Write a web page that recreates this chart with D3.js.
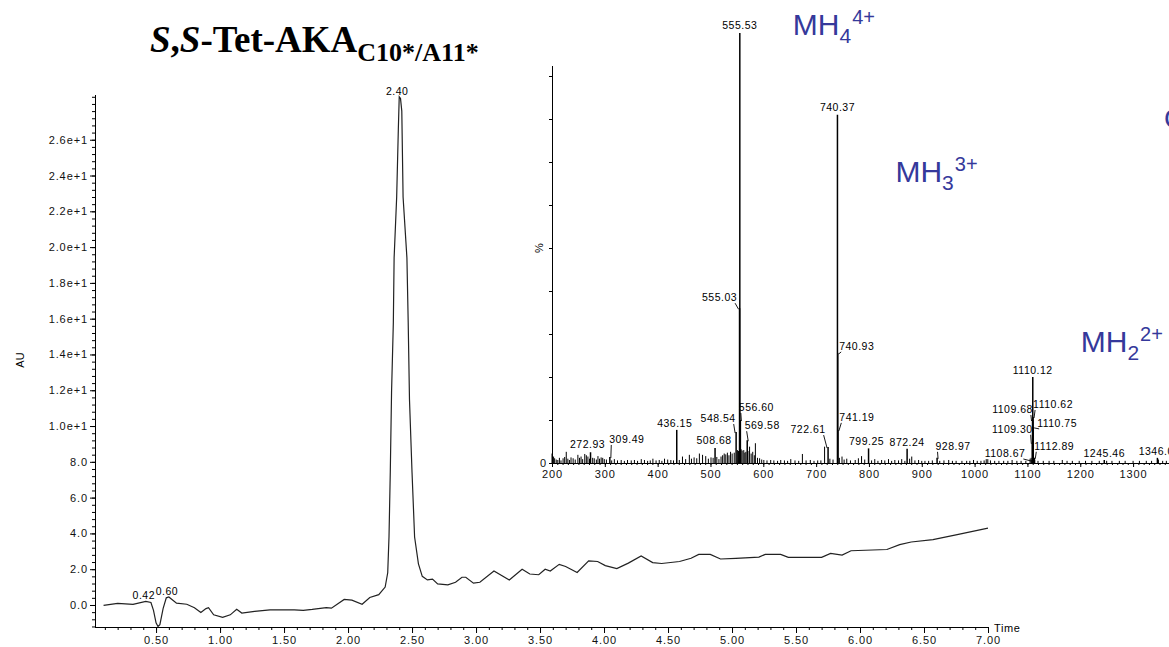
<!DOCTYPE html>
<html>
<head>
<meta charset="utf-8">
<script src="https://cdn.jsdelivr.net/npm/d3@7"></script>
<style>
body{margin:0;background:#fff;}
svg{display:block;font-family:"Liberation Sans",Arial,sans-serif;}
.tick text{font-size:11px;fill:#111;letter-spacing:0.9px;}
</style>
</head>
<body>
<div id="page"></div>
<script>
// configure page
const width = 1169
const height = 647

// uv chromatogram, retention time (min) and absorbance (AU)
var rtTime = [0.09,0.20,0.32,0.42,0.46,0.48,0.50,0.515,0.53,0.555,0.58,0.60,0.66,0.74,0.80,0.85,0.89,0.91,0.95,1.02,
	1.08,1.13,1.17,1.27,1.39,1.58,1.65,1.72,1.83,1.87,1.97,2.03,2.11,2.17,2.24,2.29,2.31,2.32,2.33,2.34,
	2.354,2.36,2.38,2.393,2.40,2.41,2.42,2.43,2.46,2.47,2.48,2.50,2.52,2.55,2.58,2.62,2.66,2.70,2.78,2.84,
	2.89,2.92,2.98,3.03,3.14,3.26,3.36,3.42,3.49,3.54,3.58,3.65,3.70,3.79,3.88,3.95,4.01,4.10,4.19,4.29,
	4.38,4.45,4.59,4.68,4.74,4.83,4.91,5.03,5.21,5.26,5.38,5.44,5.70,5.77,5.86,5.93,6.21,6.31,6.40,6.57,
	6.75,7.00];
var rtAbs = [-0.02,0.09,0.04,0.20,0.14,-0.30,-1.00,-1.20,-1.10,-0.20,0.40,0.45,0.10,0.04,-0.15,-0.42,-0.20,-0.15,-0.55,-0.69,
	-0.55,-0.24,-0.45,-0.36,-0.27,-0.27,-0.30,-0.25,-0.15,-0.18,0.31,0.27,0.04,0.42,0.58,1.00,1.80,3.80,7.40,11.9,
	15.8,19.4,22.8,26.6,28.4,28.3,27.6,22.8,19.4,15.8,11.5,7.4,3.8,2.3,1.6,1.4,1.45,1.18,1.13,1.27,
	1.55,1.55,1.22,1.27,1.90,1.40,2.00,1.73,1.69,2.00,1.90,2.27,2.15,1.82,2.47,2.43,2.20,2.03,2.34,2.74,
	2.37,2.32,2.43,2.61,2.83,2.83,2.57,2.61,2.68,2.83,2.83,2.66,2.66,2.88,2.79,3.03,3.10,3.37,3.52,3.65,
	3.92,4.30];
// retention times that carry a label
var rtPeaks = [0.42, 0.60, 2.40];
// tick labels
var auTicks = [0,2,4,6,8,10,12,14,16,18,20,22,24,26];
var timeTicks = [0.5,1.0,1.5,2.0,2.5,3.0,3.5,4.0,4.5,5.0,5.5,6.0,6.5,7.0];

// mass spectrum inset, labelled peaks (m/z, relative intensity %)
var peakMz = [555.53,740.37,555.03,740.93,556.60,548.54,436.15,569.58,508.68,272.93,309.49,722.61,741.19,
	799.25,872.24,928.97,1108.67,1109.30,1109.68,1110.12,1110.62,1110.75,1112.89,1245.46,1346.06];
var peakPct = [100,81,36,25.6,10,7.2,7.7,5.3,3.5,2.5,1.4,3.7,7.7,
	3.4,3.3,1.2,0.7,4.7,10,20,10.7,8.4,1.2,0.7,1.2];
// unlabelled sticks of the spectrum
var noiseMz = [200,203,205,208,211,214,217,221,224,227,230,233,236,240,244,249,252,255,258,262,265,268,271,277,280,284,287,290,293,296,299,
	303,313,318,324,331,337,343,350,356,362,369,375,381,386,391,397,403,408,413,419,425,430,441,447,453,460,464,469,474,479,485,491,496,
	501,505,512,516,520,523,526,529,532,535,538,541,545,551,553,558,560,563,565,567,571,574,577,580,583,585,589,593,597,601,607,614,620,
	627,633,640,646,652,660,667,674,681,689,696,703,709,716,726,732,744,749,753,758,765,774,780,786,792,805,811,817,824,830,837,843,849,
	856,862,868,877,881,887,894,900,906,913,920,934,942,951,958,965,976,985,991,998,1005,1012,1018,1022,1025,1030,1038,1046,1055,1063,
	1071,1080,1088,1097,1105,1107,1111.5,1114,1120,1130,1141,1150,1166,1175,1185,1198,1210,1222,1236,1250,1260,1274,1285,1300,1312,1325,
	1335,1348,1356,1363];
var noisePct = [2.2,1.5,1.1,0.8,0.7,1.2,0.6,1.1,1.4,2.6,1.0,0.7,1.3,1.1,0.8,1.9,1.2,1.5,0.9,2.1,1.8,1.5,1.0,1.2,1.1,0.8,1.6,1.0,1.3,1.2,0.9,
	0.8,0.6,0.9,0.6,0.7,0.5,0.7,0.6,0.7,0.5,0.9,0.7,0.5,0.6,1.0,0.6,0.7,0.5,1.0,0.8,0.7,0.6,0.7,1.5,0.9,1.9,1.0,1.3,1.1,2.2,1.9,1.6,1.0,
	1.3,1.2,1.4,0.9,1.5,1.8,2.2,2.0,2.4,1.8,2.6,2.2,2.4,3.0,2.8,3.2,2.9,3.0,2.4,2.6,2.8,3.8,2.2,2.6,1.8,4.6,1.2,1.1,0.8,0.7,0.6,0.7,0.6,
	0.5,0.7,0.6,0.5,0.9,0.6,0.5,2.1,0.6,0.7,0.5,0.6,0.6,3.8,1.0,0.8,1.2,1.5,0.8,1.0,0.6,0.7,1.1,1.6,0.8,0.6,0.9,0.5,0.7,0.6,0.9,0.5,0.7,
	0.6,0.9,0.5,1.0,1.5,0.6,0.7,0.5,0.5,0.5,0.6,0.5,0.6,0.7,0.5,0.5,0.5,0.5,0.5,0.7,0.5,0.5,0.6,0.9,0.9,0.6,0.5,0.5,0.5,0.5,
	0.7,0.5,0.5,0.5,1.0,1.2,2.5,0.8,0.5,0.5,0.5,0.5,0.7,0.5,0.5,0.5,0.5,0.5,0.5,0.5,0.5,0.5,0.5,0.5,0.5,0.5,
	0.5,0.8,0.5,0.5];
var mzTicks = [200,300,400,500,600,700,800,900,1000,1100,1200,1300];
// charge state annotations, attached to the peak they name
var ionPeak = [555.53, 740.37, 1110.12];
var ionSub = ['4','3','2'];
var ionSup = ['4+','3+','2+'];

// label placement in pixels relative to the peak top: [dx, dy, leader]
var labelNudge = {
	'555.53':[0,-4,0], '740.37':[0,-4,0], '555.03':[-20,-7,1], '740.93':[19,-3,1],
	'556.60':[16,-9,1], '548.54':[-18,-10,1], '436.15':[-2,-3,0], '569.58':[15,-11,1],
	'508.68':[-1,-4,0], '272.93':[-3,-4,0], '309.49':[17,-14,1], '722.61':[-20,-14,1],
	'741.19':[19,-9,1], '799.25':[-2,-3,0], '872.24':[0,-3,0], '928.97':[16,-8,1],
	'1108.67':[-27,-3,1], '1109.30':[-20,-10,1], '1109.68':[-20,-7,1], '1110.12':[0,-3,0],
	'1110.62':[20,-9,1], '1110.75':[24,0,1], '1112.89':[20,-8,1], '1245.46':[0,-3,0], '1346.06':[2,-3,0]
};
var ionNudge = [[53,2],[58,67],[48,-25]];

window.onload = function(){
	var svg = d3.select('#page').append('svg')
		.attr('width', width)
		.attr('height', height);
	draw_title(svg);
	draw_chromatogram(svg);
	draw_spectrum(svg);
}

function draw_title(svg){
	var t = svg.append('text')
		.attr('x', 150).attr('y', 52)
		.style('font-family','"Liberation Serif","Times New Roman",serif')
		.style('font-weight','bold')
		.style('font-size','37px')
		.attr('fill','#000');
	t.append('tspan').style('font-style','italic').text('S');
	t.append('tspan').text(',');
	t.append('tspan').style('font-style','italic').text('S');
	t.append('tspan').text('-Tet-AKA');
	t.append('tspan').attr('dy', 9).style('font-size','26px').text('C10*/A11*');
}

function draw_chromatogram(svg){
	var x = d3.scaleLinear().domain([0.023, 7.0]).range([95, 988]);
	var y = d3.scaleLinear().domain([-1.23, 28.5]).range([627, 95]);

	// minor ticks first, major ticks on top
	svg.append('g').attr('transform','translate(0,627)')
		.call(d3.axisBottom(x).tickValues(d3.range(0.1, 7.001, 0.1)).tickSize(3).tickFormat(''))
		.call(g => g.select('.domain').remove());
	var xAxis = svg.append('g').attr('transform','translate(0,627)')
		.call(d3.axisBottom(x).tickValues(timeTicks).tickSize(6).tickPadding(3)
			.tickFormat(d => d.toFixed(2)));
	xAxis.select('.domain').attr('d','M95,0.5H988');

	svg.append('g').attr('transform','translate(95,0)')
		.call(d3.axisLeft(y).tickValues(d3.range(-1.2, 28.41, 0.4)).tickSize(3).tickFormat(''))
		.call(g => g.select('.domain').remove());
	var yAxis = svg.append('g').attr('transform','translate(95,0)')
		.call(d3.axisLeft(y).tickValues(auTicks).tickSize(5).tickPadding(2)
			.tickFormat(d => d >= 10 ? (d/10).toFixed(1)+'e+1' : d.toFixed(1)));
	yAxis.select('.domain').attr('d','M0.5,95V627');

	svg.selectAll('.tick line').attr('stroke','#000');
	svg.selectAll('.domain').attr('stroke','#000');

	svg.append('text').attr('x', 994).attr('y', 632)
		.style('font-size','11px').style('letter-spacing','0.6px').text('Time');
	svg.append('text').attr('transform','translate(24,360) rotate(-90)')
		.attr('text-anchor','middle').style('font-size','11px').text('AU');

	// the trace
	var pts = rtTime.map((t,i) => [t, rtAbs[i]]);
	svg.append('path').datum(pts)
		.attr('fill','none')
		.attr('stroke','#222')
		.attr('stroke-width',1.2)
		.attr('d', d3.line().x(d => x(d[0])).y(d => y(d[1])));

	// retention time labels above their peaks
	svg.append('g').selectAll('text').data(rtPeaks).enter().append('text')
		.attr('x', d => x(d) - 2)
		.attr('y', d => y(rtAbs[rtTime.indexOf(d)]) - 2)
		.attr('text-anchor','middle')
		.style('font-size','10.5px').style('letter-spacing','0.5px')
		.text(d => d.toFixed(2));
}

function draw_spectrum(svg){
	var x = d3.scaleLinear().domain([200, 1368]).range([552, 1169]);
	var y = d3.scaleLinear().domain([0, 100]).range([463, 33]);

	var g = svg.append('g').attr('id','spectrum');

	// axes
	g.append('g').attr('transform','translate(0,463)')
		.call(d3.axisBottom(x).tickValues(d3.range(210, 1368, 10)).tickSize(2).tickFormat(''))
		.call(a => a.select('.domain').remove());
	var xa = g.append('g').attr('transform','translate(0,463)')
		.call(d3.axisBottom(x).tickValues(mzTicks).tickSize(4).tickPadding(3).tickFormat(d3.format('d')));
	xa.select('.domain').attr('d','M552,0.5H1169');

	var ya = g.append('g').attr('transform','translate(552,0)')
		.call(d3.axisLeft(y).tickValues(d3.range(0, 91, 10)).tickSize(3).tickPadding(2)
			.tickFormat(d => d == 0 ? '0' : ''));
	ya.select('.domain').attr('d','M0.5,66V463');
	g.selectAll('.tick line').attr('stroke','#000');
	g.selectAll('.domain').attr('stroke','#000');
	g.append('text').attr('transform','translate('+(552-9)+','+y(50)+') rotate(-90)')
		.attr('text-anchor','middle').style('font-size','11px').text('%');

	// sticks
	g.append('g').selectAll('line').data(noiseMz).enter().append('line')
		.attr('x1', d => x(d)).attr('x2', d => x(d))
		.attr('y1', y(0)).attr('y2', (d,i) => y(noisePct[i]))
		.attr('stroke','#000').attr('stroke-width',1);
	g.append('g').selectAll('line').data(peakMz).enter().append('line')
		.attr('x1', d => x(d)).attr('x2', d => x(d))
		.attr('y1', y(0)).attr('y2', (d,i) => y(peakPct[i]))
		.attr('stroke','#000').attr('stroke-width',1.5);

	// peak labels with short leaders where they are moved aside
	var labels = g.append('g').selectAll('g').data(peakMz).enter().append('g');
	labels.each(function(d,i){
		var key = d.toFixed(2);
		var n = labelNudge[key];
		var px = x(d), py = y(peakPct[i]);
		var txt = d3.select(this).append('text')
			.attr('x', px + n[0]).attr('y', py + n[1])
			.attr('text-anchor','middle')
			.style('font-size','10.5px').style('letter-spacing','0.5px')
			.text(key);
		if(n[2]){
			var half = txt.node().getComputedTextLength()/2;
			var sx = px + n[0] - Math.sign(n[0])*(half - 2);
			d3.select(this).append('line')
				.attr('x1', sx).attr('y1', py + n[1] + 2)
				.attr('x2', px + Math.sign(n[0])*1).attr('y2', py + 1)
				.attr('stroke','#000').attr('stroke-width',0.9);
		}
	});

	// charge states in blue
	var ions = g.append('g').selectAll('text').data(ionPeak).enter().append('text')
		.attr('x', (d,i) => x(d) + ionNudge[i][0])
		.attr('y', (d,i) => y(peakPct[peakMz.indexOf(d)]) + ionNudge[i][1])
		.attr('fill','#35399b')
		.style('font-size','30px');
	ions.append('tspan').text('MH');
	ions.append('tspan').attr('dy', 8).style('font-size','21px').text((d,i) => ionSub[i]);
	ions.append('tspan').attr('dy', -19).attr('dx', 1).style('font-size','20px').text((d,i) => ionSup[i]);
	// a further annotation cut by the page edge
	g.append('text').attr('x', x(1368) - 5).attr('y', 128)
		.attr('fill','#35399b').style('font-size','28px').text('C');
}
</script>
</body>
</html>
